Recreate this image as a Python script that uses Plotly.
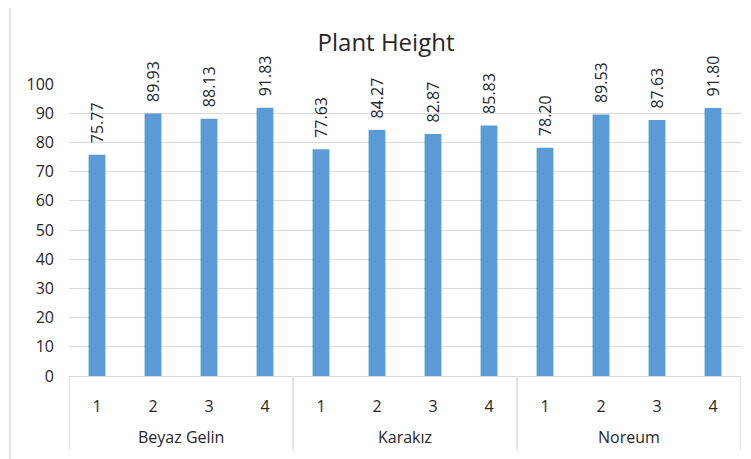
import plotly.graph_objects as go

groups = ["Beyaz Gelin", "Karakız", "Noreum"]
subcats = ["1", "2", "3", "4"]
values = [75.77, 89.93, 88.13, 91.83,
          77.63, 84.27, 82.87, 85.83,
          78.20, 89.53, 87.63, 91.80]
title_text = "Plant Height"
y_ticks = [0, 10, 20, 30, 40, 50, 60, 70, 80, 90, 100]

FONT = "Open Sans"
TXT = "#262626"
GRID = "#D9D9D9"

# the page body has an 8px default margin; work in figure coordinates
OFF = 8
W, H = 751 - OFF, 459 - OFF
L = 69 - OFF
T = 84 - OFF
R = W - (741 - OFF)
B = H - (376 - OFF)
pw, ph = W - L - R, H - T - B

n_sub = len(subcats)
xs = list(range(len(values)))
ticktext = [s for g in groups for s in subcats]

fig = go.Figure()
fig.add_trace(go.Bar(x=xs, y=values, marker=dict(color="#5B9BD5", line=dict(width=0)),
                     hoverinfo="y"))

# data labels
for x, v in zip(xs, values):
    fig.add_annotation(x=x, y=v, xref="x", yref="y", text=f"{v:.2f}", textangle=-90,
                       showarrow=False, yanchor="bottom", xanchor="center", yshift=9,
                       font=dict(family=FONT, size=16, color=TXT))

# group labels
for gi, g in enumerate(groups):
    cx = gi * n_sub + (n_sub - 1) / 2
    fig.add_annotation(x=cx, y=-(437 - 376) / ph, xref="x", yref="paper", text=g,
                       showarrow=False, yanchor="middle", xanchor="center",
                       font=dict(family=FONT, size=16, color=TXT))

# group dividers
for gi in range(len(groups) + 1):
    xd = gi * n_sub - 0.5
    fig.add_shape(type="line", x0=xd, x1=xd, xref="x", yref="paper",
                  y0=0, y1=-(450 - 376) / ph, line=dict(color=GRID, width=1.3))

# outer chart border (left/top visible)
fig.add_shape(type="rect", xref="paper", yref="paper",
              x0=(10 - 69) / pw, x1=(W + 20 - L) / pw,
              y0=-(60 + B) / ph, y1=(376 - 7) / ph,
              line=dict(color=GRID, width=1.3), fillcolor="rgba(0,0,0,0)", layer="below")

fig.update_layout(
    width=W, height=H,
    margin=dict(l=L, r=R, t=T, b=B, pad=0),
    paper_bgcolor="white", plot_bgcolor="white",
    bargap=0.7,
    showlegend=False,
    title=dict(text=title_text, x=(386 - OFF) / W, xref="container", xanchor="center",
               y=1 - (43 - OFF) / H, yref="container", yanchor="middle",
               font=dict(family=FONT, size=24, color=TXT)),
    font=dict(family=FONT, size=16, color=TXT),
    xaxis=dict(range=[-0.5, len(values) - 0.5], tickvals=xs, ticktext=ticktext,
               showgrid=False, zeroline=False, showline=True, linecolor=GRID, linewidth=1.3,
               ticks="", ticklabelstandoff=16, tickfont=dict(family=FONT, size=16, color=TXT)),
    yaxis=dict(range=[0, 100], tickvals=y_ticks, showgrid=True, gridcolor=GRID, gridwidth=1.3,
               zeroline=False, showline=False, ticks="", ticklabelstandoff=14,
               tickfont=dict(family=FONT, size=16, color=TXT)),
)

fig.write_html("out.html")
